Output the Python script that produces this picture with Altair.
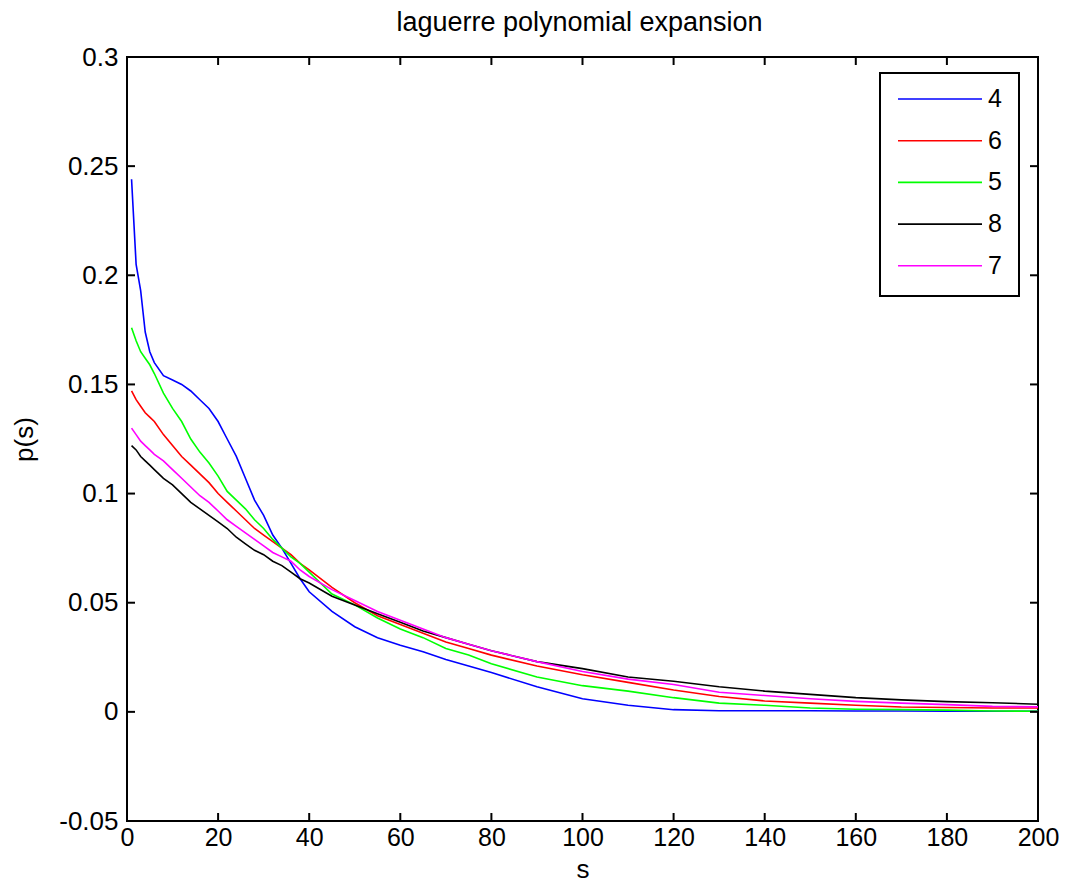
import altair as alt
import pandas as pd

s_grid = [1, 2, 3, 4, 5, 6, 8, 10, 12, 14, 16, 18, 20, 22, 24, 26, 28, 30, 32, 34, 36, 38, 40,
          45, 50, 55, 60, 65, 70, 75, 80, 90, 100, 110, 120, 130, 140, 150, 160, 170, 180, 190, 200]

p4 = [0.244, 0.205, 0.193, 0.174, 0.165, 0.160, 0.154, 0.152, 0.150, 0.147, 0.143, 0.139, 0.133,
      0.125, 0.117, 0.107, 0.097, 0.090, 0.081, 0.075, 0.068, 0.061, 0.055,
      0.046, 0.039, 0.034, 0.0305, 0.0275, 0.024, 0.021, 0.018, 0.0115, 0.006, 0.003, 0.001,
      0.0005, 0.0005, 0.0005, 0.0004, 0.0004, 0.0003, 0.0003, 0.0003]
p5 = [0.176, 0.170, 0.165, 0.162, 0.159, 0.155, 0.146, 0.139, 0.133, 0.125, 0.119, 0.114, 0.108,
      0.101, 0.097, 0.093, 0.088, 0.084, 0.079, 0.075, 0.071, 0.068, 0.064,
      0.054, 0.049, 0.043, 0.038, 0.034, 0.029, 0.026, 0.022, 0.016, 0.012, 0.0095, 0.0065,
      0.004, 0.003, 0.0018, 0.0012, 0.001, 0.0008, 0.0004, 0.0003]
p6 = [0.147, 0.143, 0.140, 0.137, 0.135, 0.133, 0.127, 0.122, 0.117, 0.113, 0.109, 0.105, 0.100,
      0.096, 0.092, 0.088, 0.084, 0.081, 0.078, 0.075, 0.072, 0.068, 0.065,
      0.057, 0.050, 0.044, 0.040, 0.036, 0.032, 0.029, 0.026, 0.021, 0.017, 0.0135, 0.010,
      0.007, 0.005, 0.004, 0.003, 0.0022, 0.002, 0.0018, 0.0018]
p7 = [0.130, 0.127, 0.124, 0.122, 0.120, 0.118, 0.115, 0.111, 0.107, 0.103, 0.099, 0.096, 0.092,
      0.088, 0.085, 0.082, 0.079, 0.076, 0.073, 0.071, 0.069, 0.065, 0.062,
      0.056, 0.051, 0.046, 0.042, 0.038, 0.034, 0.031, 0.028, 0.023, 0.0185, 0.015, 0.0125,
      0.009, 0.0075, 0.006, 0.0048, 0.004, 0.0033, 0.0025, 0.0023]
p8 = [0.122, 0.120, 0.117, 0.115, 0.113, 0.111, 0.107, 0.104, 0.100, 0.096, 0.093, 0.090, 0.087,
      0.084, 0.080, 0.077, 0.074, 0.072, 0.069, 0.067, 0.064, 0.061, 0.059,
      0.053, 0.049, 0.045, 0.041, 0.037, 0.034, 0.031, 0.028, 0.023, 0.0198, 0.016, 0.014,
      0.0115, 0.0095, 0.008, 0.0065, 0.0055, 0.0047, 0.0042, 0.0035]

series_names = ["4", "6", "5", "8", "7"]
series_colors = ["#0000ff", "#ff0000", "#00ff00", "#000000", "#ff00ff"]
series_values = {"4": p4, "6": p6, "5": p5, "8": p8, "7": p7}

x_ticks = [0, 20, 40, 60, 80, 100, 120, 140, 160, 180, 200]
y_ticks = [-0.05, 0, 0.05, 0.1, 0.15, 0.2, 0.25, 0.3]

rows = []
for name in series_names:
    for s, v in zip(s_grid, series_values[name]):
        rows.append({"s": s, "p": v, "n": name})
df = pd.DataFrame(rows)

W, H = 911, 764
FONT = "Liberation Sans"
FS = 26

xscale = alt.Scale(domain=[0, 200], nice=False)
yscale = alt.Scale(domain=[-0.05, 0.3], nice=False)

lines = alt.Chart(df).mark_line(strokeWidth=1.6).encode(
    x=alt.X("s:Q", scale=xscale,
            axis=alt.Axis(values=x_ticks, title="s", ticks=False, grid=False,
                          labelFontSize=25, labelPadding=4, titleFontSize=FS,
                          titleFontWeight="normal", titleY=56, titleBaseline="alphabetic",
                          domain=False, labelFlush=False, labelExpr="datum.value + ''")),
    y=alt.Y("p:Q", scale=yscale,
            axis=alt.Axis(values=y_ticks, title="p(s)", ticks=False, grid=False,
                          labelFontSize=FS, labelPadding=9, titleFontSize=FS,
                          titleFontWeight="normal", titleX=-95, titleY=H / 2,
                          titleBaseline="alphabetic", titleAngle=-90, titleAlign="center",
                          domain=False, labelFlush=False,
                          labelExpr="datum.value + ''")),
    color=alt.Color("n:N", sort=series_names,
                    scale=alt.Scale(domain=series_names, range=series_colors),
                    legend=alt.Legend(title=None, orient="none", legendX=753, legendY=16,
                                      symbolType="stroke", symbolStrokeWidth=1.6,
                                      symbolSize=7056, clipHeight=18,
                                      labelFontSize=25, labelFont=FONT, labelColor="black",
                                      strokeColor="black", fillColor="white",
                                      padding=17, rowPadding=16.7, labelOffset=5)),
    order=alt.Order("s:Q"),
)

xt = pd.DataFrame({"t": x_ticks})
yt = pd.DataFrame({"t": y_ticks})

bottom_ticks = alt.Chart(xt).mark_rule(color="black", strokeWidth=2).encode(
    x=alt.X("t:Q", scale=xscale), y=alt.value(H), y2=alt.value(H - 8))
top_ticks = alt.Chart(xt).mark_rule(color="black", strokeWidth=2).encode(
    x=alt.X("t:Q", scale=xscale), y=alt.value(0), y2=alt.value(8))
left_ticks = alt.Chart(yt).mark_rule(color="black", strokeWidth=2).encode(
    y=alt.Y("t:Q", scale=yscale), x=alt.value(0), x2=alt.value(8))
right_ticks = alt.Chart(yt).mark_rule(color="black", strokeWidth=2).encode(
    y=alt.Y("t:Q", scale=yscale), x=alt.value(W), x2=alt.value(W - 8))

chart = alt.layer(lines, bottom_ticks, top_ticks, left_ticks, right_ticks).properties(
    width=W, height=H,
    title=alt.Title("laguerre polynomial expansion", fontSize=27, fontWeight="normal",
                    font=FONT, anchor="middle", offset=7.5, dx=-3, color="black"),
    autosize=alt.AutoSizeParams(type="none"),
    padding={"left": 119, "top": 49, "right": 21, "bottom": 62},
    background="white",
).configure_view(
    stroke="black", strokeWidth=2
).configure_axis(
    labelFont=FONT, titleFont=FONT, labelColor="black", titleColor="black"
).configure_legend(
    strokeWidth=2
)

chart.save("out.html", embed_options={"renderer": "svg", "actions": False})
